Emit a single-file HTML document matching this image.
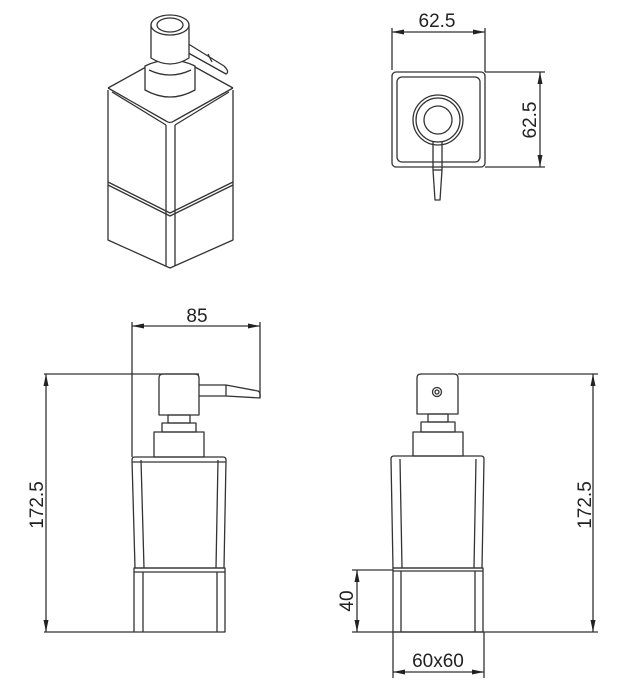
<!DOCTYPE html>
<html><head><meta charset="utf-8"><style>
html,body{margin:0;padding:0;background:#fff}
svg{display:block}
text{font-family:"Liberation Sans",sans-serif;font-size:19px;fill:#222}
</style></head><body>
<svg width="618" height="693" viewBox="0 0 618 693" xmlns="http://www.w3.org/2000/svg">
<defs>
<marker id="a" markerWidth="12" markerHeight="6" refX="12" refY="3" orient="auto-start-reverse" markerUnits="userSpaceOnUse"><path d="M12,3 L0,0.5 L0,5.5 Z" fill="#222"/></marker>
</defs>
<g fill="none" stroke="#333" stroke-width="1.3" stroke-linejoin="round">
<!-- ISO VIEW -->
<path d="M108,90 L108,240 L170,268 L233,240 L233,90"/>
<path d="M108,88 L146,67 M195,67 L233,88"/>
<path d="M108,88 L166,121 Q170,124 174,121 L233,88"/>
<path d="M112,92 L166,125 M229,92 L175,125"/>
<path d="M166,125 L166,266 M175,125 L175,266"/>
<path d="M108,182 L170,213 L233,182"/>
<path d="M108,185 L170,216 L233,185"/>
<path d="M145,66 L145,90 Q170,104 195,90 L195,66 Q170,54 145,66 Z" fill="#fff"/>
<path d="M149,70 Q170,80 191,70"/>
<path d="M182,40 L224,66 Q230,72 226,74 L183,50 Z" fill="#fff"/>
<path d="M208,54 L212,62"/>
<path d="M151,25 L151,58 Q170,70 189,58 L189,25 Z" fill="#fff"/>
<ellipse cx="170" cy="25" rx="19" ry="10" fill="#fff"/>
<ellipse cx="170" cy="25" rx="13" ry="7"/>
<!-- TOP VIEW -->
<rect x="392" y="72" width="93" height="95" rx="4"/>
<rect x="397" y="77" width="83" height="85" rx="5"/>
<circle cx="438" cy="120" r="25"/>
<circle cx="438" cy="120" r="22"/>
<circle cx="438" cy="120" r="14"/>
<path d="M433,141 L433,170 L435,200 L440,200 L442,170 L442,141"/>
<path d="M433,170 L442,170"/>
<!-- top dims -->
<path d="M392,28 L392,70 M485,28 L485,72"/>
<path d="M392,32 L485,32" marker-start="url(#a)" marker-end="url(#a)"/>
<path d="M485,72 L545,72 M485,167 L545,167"/>
<path d="M540,72 L540,167" marker-start="url(#a)" marker-end="url(#a)"/>
<!-- FRONT VIEW -->
<path d="M159,415 L159,378 Q159,374 163,374 L195,374 Q199,374 199,378 L199,415 Z"/>
<path d="M199,385 L226,385 L226,396 L199,396"/>
<path d="M226,385 L258,391 Q260,392 260,394 L260,398 L226,396"/>
<rect x="168" y="415" width="22" height="8"/>
<rect x="162" y="423" width="34" height="9"/>
<rect x="154" y="432" width="50" height="25"/>
<path d="M135,457 L223,457 Q226,457 226,460 L224,568 L135,568 L132,460 Q132,457 135,457 Z"/>
<path d="M141,460 L144,568 M218,460 L216,568 M132,462 L226,462"/>
<rect x="134" y="568" width="91" height="64"/>
<path d="M134,572 L225,572 M143,572 L143,632 M217,572 L217,632"/>
<!-- front dims -->
<path d="M132,322 L132,457 M260,322 L260,398"/>
<path d="M132,326 L260,326" marker-start="url(#a)" marker-end="url(#a)"/>
<path d="M44,374 L199,374 M44,632 L134,632"/>
<path d="M46,374 L46,632" marker-start="url(#a)" marker-end="url(#a)"/>
<!-- SIDE VIEW -->
<path d="M417,414 L417,378 Q417,374 421,374 L454,374 Q458,374 458,378 L458,414 Z"/>
<circle cx="437" cy="392" r="4.5"/>
<circle cx="437" cy="392" r="2"/>
<rect x="428" y="414" width="20" height="8"/>
<rect x="421" y="422" width="34" height="10"/>
<rect x="413" y="432" width="50" height="24"/>
<path d="M394,456 L481,456 Q484,456 484,459 L482,568 L393,568 L391,459 Q391,456 394,456 Z"/>
<path d="M400,459 L402,568 M476,459 L474,568"/>
<rect x="393" y="568" width="90" height="64"/>
<path d="M393,571 L483,571 M401,571 L401,632 M475,571 L475,632"/>
<!-- side dims -->
<path d="M458,374 L598,374 M352,632 L598,632"/>
<path d="M593,374 L593,632" marker-start="url(#a)" marker-end="url(#a)"/>
<path d="M352,570 L393,570"/>
<path d="M357,570 L357,632" marker-start="url(#a)" marker-end="url(#a)"/>
<path d="M393,632 L393,678 M484,632 L484,678"/>
<path d="M393,672 L484,672" marker-start="url(#a)" marker-end="url(#a)"/>
</g>
<text x="437" y="27" text-anchor="middle">62.5</text>
<text transform="translate(536,120) rotate(-90)" text-anchor="middle">62.5</text>
<text x="197" y="322" text-anchor="middle">85</text>
<text transform="translate(43,505) rotate(-90)" text-anchor="middle">172.5</text>
<text transform="translate(591,505) rotate(-90)" text-anchor="middle">172.5</text>
<text transform="translate(353,601) rotate(-90)" text-anchor="middle">40</text>
<text x="438" y="667" text-anchor="middle">60x60</text>
</svg>
</body></html>
